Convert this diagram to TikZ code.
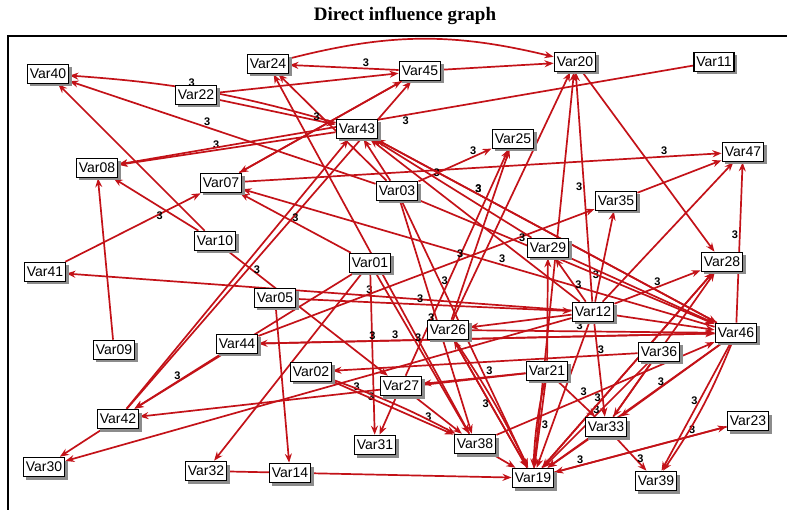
\documentclass[tikz,border=0pt]{standalone}
\usepackage{fontspec}
\newfontfamily\varfont{Liberation Sans}
\newfontfamily\titlefont{Liberation Serif}
\usetikzlibrary{arrows.meta, shadows, backgrounds, positioning}
\definecolor{edgered}{RGB}{195,18,24}

\begin{document}
\begin{tikzpicture}[
  x=1pt, y=-1pt,
  var/.style={rectangle, draw=black, line width=1.6pt, fill=white,
              inner xsep=2.5pt, inner ysep=1.5pt, minimum height=19pt,
              font=\varfont\fontsize{14}{15}\selectfont,
              drop shadow={shadow xshift=3pt, shadow yshift=-3pt,
                           fill=black!45, opacity=1}},
  ed/.style={draw=edgered, line width=1.7pt, -{Stealth[length=9pt, width=7pt]}},
  w/.style={font=\varfont\bfseries\fontsize{11}{11}\selectfont, inner sep=1pt},
]
\useasboundingbox (0,0) rectangle (787,510);
\node (title) at (405,16) {\titlefont\bfseries\fontsize{19}{21}\selectfont Direct influence graph};
% frame (only top and left edges show)
\draw[line width=2.2pt] (787,36) -- (8,36) -- (8,510);
% variables
\node[var] (v40) at (48,74)   {Var40};
\node[var] (v24) at (268,64)  {Var24};
\node[var] (v45) at (420,71)  {Var45};
\node[var] (v20) at (575,62)  {Var20};
\node[var] (v11) at (714,62)  {Var11};
\node[var] (v22) at (196,95)  {Var22};
\node[var] (v43) at (357,129) {Var43};
\node[var] (v25) at (513,139) {Var25};
\node[var] (v47) at (743,152) {Var47};
\node[var] (v08) at (97,168)  {Var08};
\node[var] (v07) at (221,183) {Var07};
\node[var] (v03) at (397,191) {Var03};
\node[var] (v35) at (616,201) {Var35};
\node[var] (v10) at (215,241) {Var10};
\node[var] (v29) at (548,248) {Var29};
\node[var] (v01) at (370,263) {Var01};
\node[var] (v28) at (722,262) {Var28};
\node[var] (v41) at (45,272)  {Var41};
\node[var] (v05) at (275,298) {Var05};
\node[var] (v12) at (593,312) {Var12};
\node[var] (v26) at (448,330) {Var26};
\node[var] (v46) at (736,333) {Var46};
\node[var] (v44) at (237,344) {Var44};
\node[var] (v09) at (114,350) {Var09};
\node[var] (v36) at (659,352) {Var36};
\node[var] (v02) at (311,372) {Var02};
\node[var] (v21) at (547,371) {Var21};
\node[var] (v27) at (401,386) {Var27};
\node[var] (v42) at (118,419) {Var42};
\node[var] (v33) at (606,427) {Var33};
\node[var] (v23) at (748,421) {Var23};
\node[var] (v31) at (375,445) {Var31};
\node[var] (v38) at (475,444) {Var38};
\node[var] (v30) at (44,467)  {Var30};
\node[var] (v32) at (206,471) {Var32};
\node[var] (v14) at (290,473) {Var14};
\node[var] (v19) at (533,478) {Var19};
\node[var] (v39) at (656,481) {Var39};
% influences (all weight 3)
\begin{pgfonlayer}{background}
% upper part
\draw[ed] (v24) to[bend left=14] (v20);
\draw[ed] (v45) -- node[w, pos=0.3, above]{3} (v24);
\draw[ed] (v45) -- (v20);
\draw[ed] (v22) -- (v45);
\draw[ed] (v43) to[bend right=6] node[w, pos=0.55, above]{3} (v40);
\draw[ed] (v03) -- node[w, pos=0.55, above]{3} (v40);
\draw[ed] (v10) -- (v40);
\draw[ed] (v22) -- (v43);
\draw[ed] (v43) -- node[w, pos=0.55, above]{3} (v08);
\draw[ed] (v11) -- node[w, pos=0.5, below]{3} (v08);
\draw[ed] (v45) -- (v07);
\draw[ed] (v07) -- (v45);
\draw[ed] (v42) -- (v45);
\draw[ed] (v42) -- (v43);
\draw[ed] (v03) -- node[w, pos=0.6, left]{3} (v24);
\draw[ed] (v38) -- (v24);
\draw[ed] (v07) -- node[w, pos=0.88, above]{3} (v47);
\draw[ed] (v35) -- (v47);
\draw[ed] (v12) -- (v47);
\draw[ed] (v46) -- node[w, pos=0.55, left]{3} (v47);
\draw[ed] (v12) -- node[w, pos=0.3, left]{3} (v35);
\draw[ed] (v12) -- node[w, pos=0.5, above]{3} (v28);
\draw[ed] (v20) -- (v28);
\draw[ed] (v12) -- node[w, pos=0.5, left]{3} (v20);
\draw[ed] (v26) -- (v20);
\draw[ed] (v19) -- (v20);
\draw[ed] (v26) -- (v25);
\draw[ed] (v27) -- (v25);
\draw[ed] (v03) -- node[w, pos=0.75, above]{3} (v25);
% left part
\draw[ed] (v12) -- node[w, pos=0.4, above]{3} (v41);
\draw[ed] (v41) -- (v07);
\draw[ed] (v10) -- node[w, pos=0.4, below left]{3} (v08);
\draw[ed] (v09) -- (v08);
\draw[ed] (v01) -- node[w, pos=0.5, above]{3} (v07);
\draw[ed] (v46) -- node[w, pos=0.45, above]{3} (v07);
\draw[ed] (v03) -- (v43);
\draw[ed] (v29) -- node[w, pos=0.6, above]{3} (v43);
\draw[ed] (v46) -- node[w, pos=0.7, above]{3} (v43);
\draw[ed] (v12) -- (v43);
\draw[ed] (v10) -- node[w, pos=0.15, right]{3} (v27);
\draw[ed] (v05) -- (v14);
\draw[ed] (v01) -- (v31);
\draw[ed] (v01) -- (v32);
\draw[ed] (v44) -- node[w, pos=0.5, above]{3} (v42);
\draw[ed] (v01) -- (v42);
\draw[ed] (v21) -- node[w, pos=0.4, below]{3} (v42);
\draw[ed] (v12) -- (v30);
\draw[ed] (v42) -- (v30);
\draw[ed] (v32) -- (v19);
\draw[ed] (v05) -- node[w, pos=0.45, above]{3} (v12);
\draw[ed] (v44) -- node[w, pos=0.6, above]{3} (v35);
\draw[ed] (v44) -- node[w, pos=0.3, above]{3} (v46);
% lower part
\draw[ed] (v27) -- (v31);
\draw[ed] (v27) -- node[w, pos=0.4, below left]{3} (v38);
\draw[ed] (v02) -- node[w, pos=0.2, above]{3} (v38);
\draw[ed] (v02) to[bend left=4] (v38);
\draw[ed] (v38) -- (v19);
\draw[ed] (v26) -- node[w, pos=0.5, left]{3} (v19);
\draw[ed] (v26) to[bend left=4] (v19);
\draw[ed] (v03) -- node[w, pos=0.3, right]{3} (v19);
\draw[ed] (v21) -- node[w, pos=0.5, right]{3} (v19);
\draw[ed] (v21) to[bend right=5] (v19);
\draw[ed] (v33) -- (v19);
\draw[ed] (v46) -- (v19);
\draw[ed] (v23) -- node[w, pos=0.85, above]{3} (v19);
\draw[ed] (v36) -- node[w, pos=0.45, left]{3} (v19);
\draw[ed] (v12) -- (v19);
\draw[ed] (v28) -- (v19);
\draw[ed] (v19) -- node[w, pos=0.8, above]{3} (v23);
\draw[ed] (v46) -- node[w, pos=0.45, left]{3} (v39);
\draw[ed] (v46) to[bend left=6] (v39);
\draw[ed] (v33) -- node[w, pos=0.65, right]{3} (v39);
\draw[ed] (v46) -- node[w, pos=0.6, above]{3} (v33);
\draw[ed] (v12) -- node[w, pos=0.8, left]{3} (v33);
\draw[ed] (v21) -- (v33);
\draw[ed] (v36) -- (v33);
\draw[ed] (v12) -- (v46);
\draw[ed] (v29) -- (v46);
\draw[ed] (v43) -- node[w, pos=0.3, above]{3} (v46);
\draw[ed] (v03) -- node[w, pos=0.35, above]{3} (v46);
\draw[ed] (v26) -- node[w, pos=0.45, above]{3} (v46);
\draw[ed] (v12) -- (v26);
\draw[ed] (v46) -- node[w, pos=0.75, above]{3} (v44);
\draw[ed] (v36) -- node[w, pos=0.12, above]{3} (v02);
\draw[ed] (v21) -- node[w, pos=0.35, above]{3} (v27);
\draw[ed] (v21) -- (v29);
\draw[ed] (v12) -- node[w, pos=0.4, right]{3} (v29);
\draw[ed] (v19) -- (v26);
\draw[ed] (v38) -- node[w, pos=0.4, above]{3} (v46);
\draw[ed] (v19) -- (v28);
\draw[ed] (v33) -- (v28);
\draw[ed] (v01) -- node[w, pos=0.4, right]{3} (v38);
\draw[ed] (v03) -- node[w, pos=0.5, left]{3} (v38);
\end{pgfonlayer}
\end{tikzpicture}
\end{document}
